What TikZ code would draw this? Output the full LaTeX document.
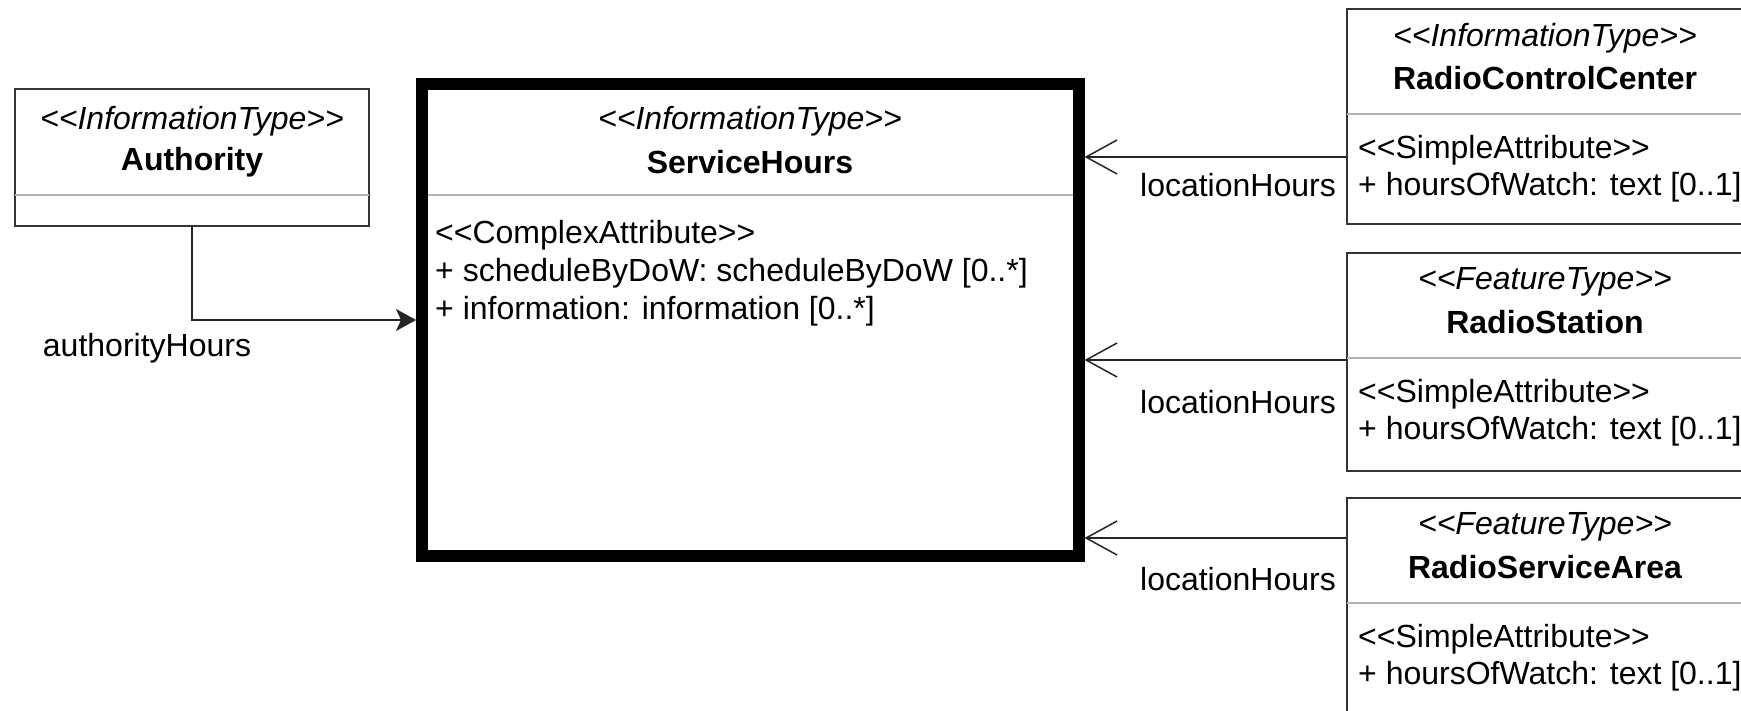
\documentclass[tikz,border=0pt]{standalone}
\usepackage{fontspec}
\setmainfont{Liberation Sans}
\usetikzlibrary{arrows.meta, positioning}

% stereotype text, kerns keep << and >> from turning into guillemets
\newcommand{\umlst}[1]{<\kern0pt<#1>\kern0pt>}

\tikzset{
  classbox/.style={draw=black!80, line width=2pt, fill=white, inner sep=0pt},
  mainbox/.style={draw=black, line width=12pt, fill=white, inner sep=0pt},
  sepline/.style={draw=black!30, line width=2pt},
  stereo/.style={font=\fontsize{32}{38}\selectfont\itshape, inner sep=0pt},
  cname/.style={font=\fontsize{32}{38}\selectfont\bfseries, inner sep=0pt},
  attr/.style={font=\fontsize{32}{38}\selectfont, inner sep=0pt, anchor=west},
  rolelabel/.style={font=\fontsize{32}{38}\selectfont, inner sep=0pt},
  assoc/.style={draw=black!85, line width=2pt},
}

\begin{document}
\begin{tikzpicture}[x=1pt, y=-1pt]

  \path[use as bounding box, fill=white] (0,0) rectangle (1741,711);

  % --- Authority ---
  \node[classbox, minimum width=354pt, minimum height=137pt] (auth) at (192,157.5) {};
  \draw[sepline, shorten <=1pt, shorten >=1pt] (auth.west |- 0,195) -- (auth.east |- 0,195);
  \node[stereo] (auth-st) at (192,121) {\umlst{InformationType}};
  \node[cname] (auth-nm) at (192,162) {Authority};

  % --- ServiceHours (main class) ---
  \node[mainbox, minimum width=656.5pt, minimum height=472pt] (svc) at (750.25,320) {};
  \draw[sepline, shorten <=12pt, shorten >=12pt] (svc.west |- 0,195) -- (svc.east |- 0,195);
  \node[stereo] (svc-st) at (750,121) {\umlst{InformationType}};
  \node[cname] (svc-nm) at (750,162) {ServiceHours};
  \node[attr] (svc-a0) at (435,235) {\umlst{ComplexAttribute}};
  \node[attr] (svc-a1) at (435,273) {+ scheduleByDoW: scheduleByDoW [0..*]};
  \node[attr] (svc-a2) at (435,311) {+ information: information [0..*]};

  % --- classes on the right (cut off by the page edge) ---
  \node[classbox, minimum width=396pt, minimum height=215pt] (rcc) at (1545,116.5) {};
  \node[classbox, minimum width=396pt, minimum height=218pt] (rs) at (1545,362) {};
  \node[classbox, minimum width=396pt, minimum height=240pt] (rsa) at (1545,618) {};

  \foreach \cls/\top/\kind/\title in {rcc/9/InformationType/RadioControlCenter,
                                     rs/253/FeatureType/RadioStation,
                                     rsa/498/FeatureType/RadioServiceArea} {
    \draw[sepline, shorten <=1pt, shorten >=1pt] (\cls.west |- 0,\top+105) -- (\cls.east |- 0,\top+105);
    \node[stereo] (\cls-st) at (1545,\top+29) {\umlst{\kind}};
    \node[cname] (\cls-nm) at (1545,\top+69) {\title};
    \node[attr] (\cls-a0) at (1358,\top+141) {\umlst{SimpleAttribute}};
    \node[attr] (\cls-a1) at (1358,\top+178) {+ hoursOfWatch: text [0..1]};
  }

  % --- associations ---
  \draw[assoc, -{Stealth[length=20pt, width=22pt, inset=5pt]}] (auth.south) |- (svc.west);
  \node[rolelabel] (lab-auth) at (147,348) {authorityHours};

  \foreach \cls/\yy/\ly in {rcc/157/185, rs/360/402, rsa/538/579} {
    \draw[assoc, -{Straight Barb[length=31pt, width=34pt, line width=1.5pt]}] (\cls.west |- 0,\yy) -- (svc.east |- 0,\yy);
    \node[rolelabel, anchor=east] (lab-\cls) at (1336,\ly) {locationHours};
  }
\end{tikzpicture}
\end{document}
